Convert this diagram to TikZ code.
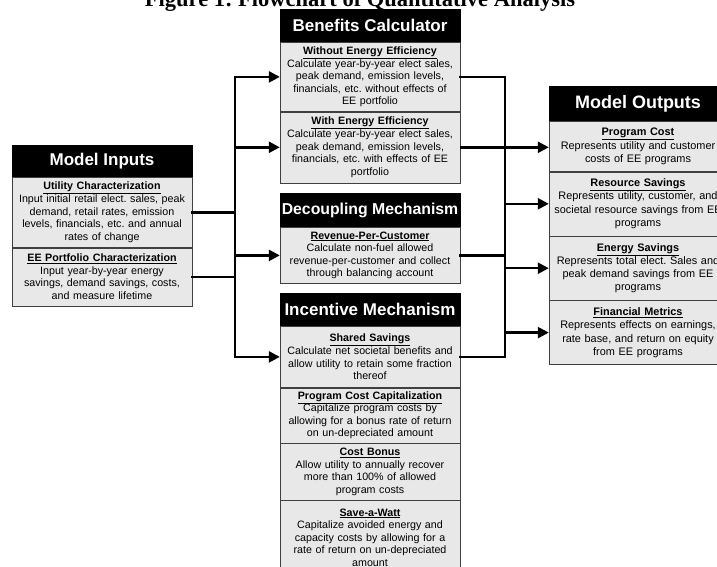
\documentclass[tikz,border=0pt]{standalone}
\usepackage{fontspec}
\setmainfont{Liberation Sans}
\newfontfamily\titleserif{Liberation Serif}
\usetikzlibrary{positioning,arrows.meta}
\definecolor{boxgray}{RGB}{232,232,232}
\newcommand{\stitle}[1]{\textbf{\underline{#1}}}
\frenchspacing

\begin{document}
\begin{tikzpicture}[x=1pt, y=-1pt,
	head/.style = {draw, fill=black, text=white, inner sep=0pt, minimum width=180pt, minimum height=33pt, font=\fontsize{17}{20}\selectfont\bfseries},
	sect/.style = {draw=black!75, fill=boxgray, align=center, inner xsep=3pt, inner ysep=3pt, text width=174pt, font=\fontsize{10.7}{12.6}\selectfont},
	outsect/.style = {sect, text width=172pt, font=\fontsize{10.9}{13.3}\selectfont},
	wire/.style = {line width=2.4pt, line cap=rect},
	arrow/.style = {line width=2.4pt, -{Triangle[length=11pt,width=11pt]}}]
	\useasboundingbox (0,0) rectangle (717,567);
	\node[anchor=base, font=\titleserif\bfseries\fontsize{22.5}{26}\selectfont] (title) at (360,7) {Figure 1: Flowchart of Quantitative Analysis};

	\node[head, minimum height=32pt] (inhead) at (102,161) {Model Inputs};
	\node[sect, below=0pt of inhead, minimum height=70pt] (util) {\stitle{Utility Characterization}\\ Input initial retail elect. sales, peak\\ demand, retail rates, emission\\ levels, financials, etc. and annual\\ rates of change};
	\node[sect, below=0pt of util, minimum height=58pt] (eep) {\stitle{EE Portfolio Characterization}\\ Input year-by-year energy\\ savings, demand savings, costs,\\ and measure lifetime};

	\node[head] (benhead) at (370,25.5) {Benefits Calculator};
	\node[sect, below=0pt of benhead, minimum height=69pt] (woee) {\stitle{Without Energy Efficiency}\\ Calculate year-by-year elect sales,\\ peak demand, emission levels,\\ financials, etc. without effects of\\ EE portfolio};
	\node[sect, below=0pt of woee, minimum height=71pt] (wee) {\stitle{With Energy Efficiency}\\ Calculate year-by-year elect sales,\\ peak demand, emission levels,\\ financials, etc. with effects of EE\\ portfolio};

	\node[head, minimum height=34pt, font=\fontsize{15.8}{19}\selectfont\bfseries] (dechead) at (370,210) {Decoupling Mechanism};
	\node[sect, below=0pt of dechead, minimum height=56pt] (rpc) {\stitle{Revenue-Per-Customer}\\ Calculate non-fuel allowed\\ revenue-per-customer and collect\\ through balancing account};

	\node[head] (inchead) at (370,309.5) {Incentive Mechanism};
	\node[sect, below=0pt of inchead, minimum height=61pt] (shared) {\stitle{Shared Savings}\\ Calculate net societal benefits and\\ allow utility to retain some fraction\\ thereof};
	\node[sect, below=0pt of shared, minimum height=55pt] (pcc) {\stitle{Program Cost Capitalization}\\ Capitalize program costs by\\ allowing for a bonus rate of return\\ on un-depreciated amount};
	\node[sect, below=0pt of pcc, minimum height=57pt] (bonus) {\stitle{Cost Bonus}\\ Allow utility to annually recover\\ more than 100\% of allowed\\ program costs};
	\node[sect, below=0pt of bonus, minimum height=74pt] (saw) {\stitle{Save-a-Watt}\\ Capitalize avoided energy and\\ capacity costs by allowing for a\\ rate of return on un-depreciated\\ amount};

	\node[head, minimum width=178pt, minimum height=35pt, font=\fontsize{18}{21}\selectfont\bfseries] (outhead) at (638,103.5) {Model Outputs};
	\node[outsect, below=0pt of outhead, minimum height=50pt] (pcost) {\stitle{Program Cost}\\ Represents utility and customer\\ costs of EE programs};
	\node[outsect, below=0pt of pcost, minimum height=64pt] (res) {\stitle{Resource Savings}\\ Represents utility, customer, and\\ societal resource savings from EE\\ programs};
	\node[outsect, below=0pt of res, minimum height=64pt] (energy) {\stitle{Energy Savings}\\ Represents total elect. Sales and\\ peak demand savings from EE\\ programs};
	\node[outsect, below=0pt of energy, minimum height=64pt] (fin) {\stitle{Financial Metrics}\\ Represents effects on earnings,\\ rate base, and return on equity\\ from EE programs};

	\coordinate (lbus) at (235,0);
	\coordinate (rbus) at (505,0);
	\draw[wire] (util.east) -- (util.east -| lbus);
	\draw[wire] (eep.east) -- (eep.east -| lbus);
	\draw[wire] (woee.west -| lbus) -- (shared.west -| lbus);
	\draw[arrow] (woee.west -| lbus) -- (woee.west);
	\draw[arrow] (wee.west -| lbus) -- (wee.west);
	\draw[arrow] (rpc.west -| lbus) -- (rpc.west);
	\draw[arrow] (shared.west -| lbus) -- (shared.west);

	\draw[wire] (woee.east) -- (woee.east -| rbus);
	\draw[wire] (rpc.east) -- (rpc.east -| rbus);
	\draw[wire] (shared.east) -- (shared.east -| rbus);
	\draw[wire] (woee.east -| rbus) -- (shared.east -| rbus);
	\draw[arrow] (wee.east) -- (wee.east -| pcost.west);
	\draw[arrow] (res.west -| rbus) -- (res.west);
	\draw[arrow] (energy.west -| rbus) -- (energy.west);
	\draw[arrow] (fin.west -| rbus) -- (fin.west);
\end{tikzpicture}
\end{document}
